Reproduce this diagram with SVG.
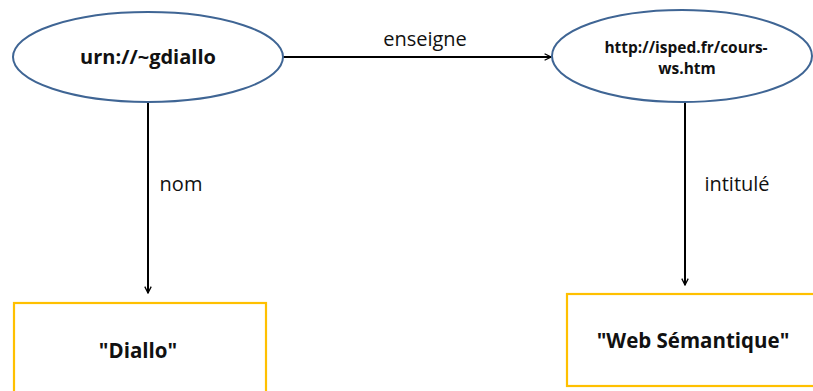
<svg xmlns="http://www.w3.org/2000/svg" width="813" height="391" viewBox="0 0 813 391">
<defs>
<marker id="arr" viewBox="0 0 10 10" refX="9" refY="5" markerWidth="8" markerHeight="8" markerUnits="userSpaceOnUse" orient="auto">
<path d="M1,1 L9,5 L1,9" fill="none" stroke="#000" stroke-width="1.6"/>
</marker>
<style>
.ell{fill:#fff;stroke:#3f6594;stroke-width:2}
.box{fill:#fff;stroke:#ffc000;stroke-width:2.2}
.t{font-family:"Open Sans","Liberation Sans",sans-serif;font-weight:bold;fill:#111;text-anchor:middle}
.lbl{font-family:"Open Sans","Liberation Sans",sans-serif;fill:#111;font-size:20px;text-anchor:middle}
.c{stroke:#000;stroke-width:2;fill:none;marker-end:url(#arr)}
</style>
</defs>
<rect width="813" height="391" fill="#fff"/>
<g id="connectors">
<line class="c" x1="283" y1="57" x2="551" y2="57"/>
<line class="c" x1="148" y1="102" x2="148" y2="293"/>
<line class="c" x1="685" y1="101" x2="685" y2="285"/>
<text class="lbl" x="425" y="46">enseigne</text>
<text class="lbl" x="181" y="191">nom</text>
<text class="lbl" x="737" y="191">intitulé</text>
</g>
<g id="n1">
<ellipse class="ell" cx="148" cy="57" rx="135" ry="45"/>
<text class="t" x="148" y="64" font-size="20">urn://~gdiallo</text>
</g>
<g id="n2">
<ellipse class="ell" cx="682" cy="56" rx="130" ry="46"/>
<text class="t" x="686" y="53" font-size="15.5">http://isped.fr/cours-</text>
<text class="t" x="687" y="74" font-size="15.5">ws.htm</text>
</g>
<g id="n3">
<rect class="box" x="14" y="303" width="252" height="100"/>
<text class="t" x="138" y="358" font-size="20.5">"Diallo"</text>
</g>
<g id="n4">
<rect class="box" x="567" y="294" width="260" height="92"/>
<text class="t" x="693" y="348" font-size="20.5">"Web Sémantique"</text>
</g>
</svg>
